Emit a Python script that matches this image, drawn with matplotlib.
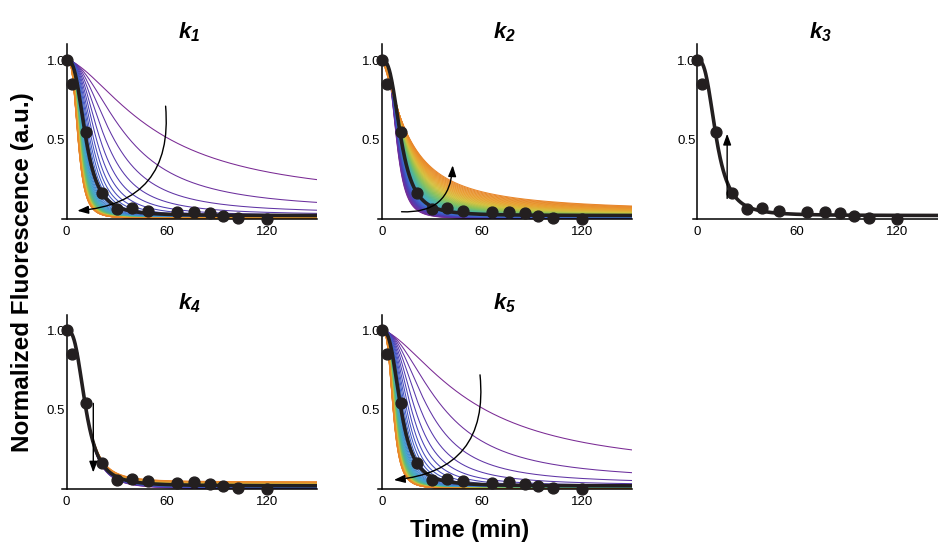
"""Sensitivity of the fluorescence decay fit to each rate constant."""
import matplotlib

matplotlib.use("Agg")
import matplotlib.pyplot as plt
import numpy as np
from matplotlib.colors import LinearSegmentedColormap
from matplotlib.patches import FancyArrowPatch

plt.rcParams["font.family"] = ["Liberation Sans", "DejaVu Sans"]
plt.rcParams["mathtext.fontset"] = "custom"
plt.rcParams["mathtext.it"] = "Liberation Sans:italic:bold"
plt.rcParams["mathtext.rm"] = "Liberation Sans:italic:bold"

# Measured points (same data set in every panel)
time_min = np.array([0, 3, 11.5, 21, 30, 39, 49, 66, 76.5, 86, 94, 103, 120])
fluor = np.array([1.0, 0.85, 0.545, 0.165, 0.06, 0.065, 0.048, 0.04,
                  0.044, 0.033, 0.017, 0.004, 0.0])

# Best fit curve: half time, steepness and floor
fit_t50 = 11.5
fit_hill = 2.9
fit_floor = 0.02

panel_titles = [r"$k_1$", r"$k_2$", r"$k_3$", r"$k_4$", r"$k_5$"]
x_ticks = [0, 60, 120]
y_ticks = [0.5, 1.0]
y_ticklabels = ["0.5", "1.0"]

# Parameter sweeps for each rate (count, half time ends, steepness ends, floor ends)
sweep_count = [60, 70, 0, 30, 60]
sweep_t50 = [(54.0, 5.5), (8.9, 16.0), None, (11.5, 11.5), (54.0, 5.5)]
sweep_hill = [(1.6, 3.3), (3.3, 1.4), None, (2.9, 2.9), (1.6, 3.3)]
sweep_floor = [(0.1, 0.0), (0.0, 0.04), None, (0.0, 0.045), (0.1, 0.0)]

# Arrow start / end (min, a.u.) and bend
arrow_start = [(59.4, 0.71), (11.9, 0.044), (18.0, 0.128), (16.0, 0.54), (59.0, 0.72)]
arrow_end = [(6.4, 0.05), (42.6, 0.337), (18.0, 0.536), (16.0, 0.104), (7.3, 0.057)]
arrow_rad = [-0.5, 0.5, 0.0, 0.0, -0.5]

rainbow = LinearSegmentedColormap.from_list(
    "rainbow_mma",
    ["#7a2a94", "#4a3db4", "#3b6ccf", "#42a5cb", "#52b793",
     "#8cc257", "#d3c23e", "#e9a131", "#e8862a"],
)


def decay(t, t50, hill, floor):
    return floor + (1 - floor) / (1 + (t / t50) ** hill)


def sweep_params(i):
    n = sweep_count[i]
    idx = np.arange(1, n + 1)
    (t_a, t_b), (h_a, h_b), (f_a, f_b) = sweep_t50[i], sweep_hill[i], sweep_floor[i]
    frac = (idx - 1) / (n - 1)
    if t_a > 3 * t_b:
        # rate increases step by step, so half time falls like 1/(n + c)
        c = 0.68
        t50 = t_b + (t_a - t_b) * (1 + c) / (idx + c)
        hill = h_b - (h_b - h_a) * np.exp(-(idx - 1) / 4.0)
        floor = f_a / idx
        shade = frac ** 0.8
    else:
        t50 = t_a + (t_b - t_a) * frac
        hill = h_a + (h_b - h_a) * frac
        floor = f_a + (f_b - f_a) * frac
        shade = frac
    return t50, hill, floor, shade


def style_axis(ax):
    ax.set_xlim(-2.5, 150)
    ax.set_ylim(0, 1.1)
    ax.spines["left"].set_position(("data", 0))
    ax.spines["top"].set_visible(False)
    ax.spines["right"].set_visible(False)
    ax.spines["left"].set_linewidth(1.1)
    ax.spines["bottom"].set_linewidth(1.1)
    ax.set_xticks(x_ticks)
    ax.set_yticks(y_ticks)
    ax.set_yticklabels(y_ticklabels)
    ax.tick_params(length=0, labelsize=9.5)
    ax.tick_params(axis="x", pad=5)
    ax.tick_params(axis="y", pad=1)


def main():
    fig = plt.figure(figsize=(9.38, 5.54), dpi=100)

    # axes boxes in figure fraction
    w, h = 0.2709, 0.3148
    positions = [
        (0.0666, 0.6052), (0.4025, 0.6052), (0.7388, 0.6052),
        (0.0666, 0.1173), (0.4025, 0.1173),
    ]

    t = np.linspace(0, 150, 500)
    for i, (x0, y0) in enumerate(positions):
        ax = fig.add_axes([x0, y0, w, h])
        style_axis(ax)

        if sweep_count[i] > 0:
            t50, hill, floor, shade = sweep_params(i)
            for j in range(sweep_count[i]):
                ax.plot(t, decay(t, t50[j], hill[j], floor[j]),
                        color=rainbow(shade[j]), lw=0.75, zorder=2)

        ax.plot(t, decay(t, fit_t50, fit_hill, fit_floor),
                color="#231f20", lw=2.6, zorder=3)
        ax.plot(time_min, fluor, "o", color="#231f20", ms=7.8,
                clip_on=False, zorder=4)

        arrow = FancyArrowPatch(
            arrow_start[i], arrow_end[i], transform=ax.transData,
            connectionstyle=f"arc3,rad={arrow_rad[i]}",
            arrowstyle="-|>,head_length=0.55,head_width=0.2",
            mutation_scale=12, lw=1.0, color="black",
            shrinkA=0, shrinkB=0, zorder=5,
        )
        ax.add_patch(arrow)

        ax.set_title(panel_titles[i], fontsize=16, pad=2)

    fig.text(0.0235, 0.509, "Normalized Fluorescence (a.u.)", rotation=90,
             fontsize=17.5, fontweight="bold", ha="center", va="center")
    fig.text(0.501, 0.0433, "Time (min)", fontsize=17, fontweight="bold",
             ha="center", va="center")

    fig.savefig("out.png", dpi=100)


if __name__ == "__main__":
    main()
